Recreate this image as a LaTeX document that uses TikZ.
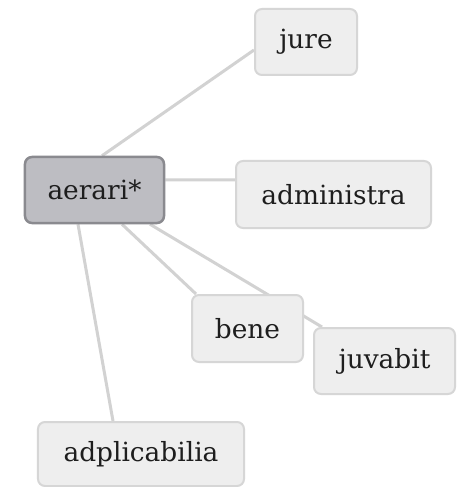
\documentclass[tikz,border=0pt]{standalone}
\usepackage{fontspec}
\setmainfont{DejaVu Serif}
\usetikzlibrary{backgrounds}
\definecolor{edgec}{HTML}{D2D2D2}
\definecolor{boxfill}{HTML}{EEEEEE}
\definecolor{boxline}{HTML}{D6D6D6}
\definecolor{hubfill}{HTML}{BDBDC2}
\definecolor{hubline}{HTML}{8A8A8F}
\definecolor{txt}{HTML}{1E1E1E}
\tikzset{
  word/.style={draw=boxline, fill=boxfill, line width=2bp, rounded corners=7bp,
    inner sep=0pt, text=txt, font=\fontsize{26.5}{30}\selectfont},
  hub/.style={word, draw=hubline, fill=hubfill, line width=2.5bp},
  link/.style={draw=edgec, line width=3bp}
}
\begin{document}
\begin{tikzpicture}[x=1bp,y=-1bp]
\useasboundingbox (0,0) rectangle (460,487);
\node[hub, minimum width=139bp, minimum height=66bp] (a) at (94.5,190) {aerari*};
\node[word, minimum width=102bp, minimum height=66bp] (jure) at (306,42) {jure};
\node[word, minimum width=195bp, minimum height=67bp] (adm) at (333.5,194.5) {administra};
\node[word, minimum width=141bp, minimum height=66bp] (juv) at (384.5,361) {juvabit};
\node[word, minimum width=111bp, minimum height=67bp] (bene) at (247.5,328.5) {bene};
\node[word, minimum width=206bp, minimum height=64bp] (adp) at (141,454) {adplicabilia};
\begin{pgfonlayer}{background}
\fill[white] (0,0) rectangle (460,487);
\draw[link] ([xshift=7.5bp]a.north) -- ([yshift=-8bp]jure.west);
\draw[link] ([yshift=10bp]a.east) -- ([yshift=14.5bp]adm.west);
\draw[link] ([xshift=-16.5bp]a.south) -- ([xshift=-28bp]adp.north);
\draw[link] ([xshift=27.5bp]a.south) -- ([xshift=5bp]bene.north west);
\draw[link] ([xshift=55.5bp]a.south) -- ([xshift=9bp]juv.north west);
\end{pgfonlayer}
\end{tikzpicture}
\end{document}
